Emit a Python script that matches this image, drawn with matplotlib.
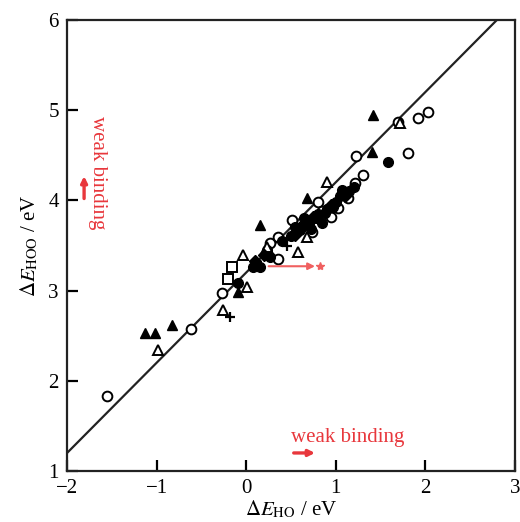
import matplotlib
matplotlib.use("Agg")
import matplotlib.pyplot as plt

# ---- data ----
open_circle_x = [-1.55, -0.62, -0.27, 0.27, 0.36, 0.36, 0.51, 0.74, 0.80, 0.85, 0.95, 1.02, 1.14, 1.22, 1.31, 1.23, 1.70, 1.81, 1.92, 2.03]
open_circle_y = [1.83, 2.57, 2.97, 3.53, 3.59, 3.35, 3.78, 3.65, 3.98, 3.88, 3.82, 3.92, 4.03, 4.19, 4.28, 4.49, 4.87, 4.53, 4.91, 4.98]

filled_circle_x = [-0.09, 0.08, 0.16, 0.23, 0.27, 0.40, 0.50, 0.55, 0.60, 0.62, 0.65, 0.70, 0.72, 0.78, 0.80, 0.85, 0.88, 0.90, 0.97, 1.00, 1.05, 1.07, 1.15, 1.20, 1.58]
filled_circle_y = [3.08, 3.26, 3.26, 3.45, 3.37, 3.55, 3.60, 3.70, 3.67, 3.72, 3.80, 3.75, 3.68, 3.80, 3.85, 3.75, 3.86, 3.90, 3.93, 3.98, 4.05, 4.12, 4.10, 4.15, 4.43]

filled_tri_x = [-1.13, -1.02, -0.83, -0.09, 0.16, 0.68, 1.41, 1.42]
filled_tri_y = [2.53, 2.53, 2.62, 2.98, 3.73, 4.03, 4.54, 4.95]

open_tri_x = [-0.98, -0.26, -0.04, 0.01, 0.23, 0.58, 0.68, 0.90, 1.72]
open_tri_y = [2.34, 2.78, 3.40, 3.04, 3.48, 3.43, 3.59, 4.20, 4.86]

open_square_x = [-0.16, -0.20]
open_square_y = [3.26, 3.13]

plus_x = [-0.18, 0.46]
plus_y = [2.71, 3.49]

filled_diamond_x = [0.10, 0.20, 0.55, 0.75, 0.95, 1.10]
filled_diamond_y = [3.33, 3.40, 3.62, 3.82, 3.95, 4.05]

fit_slope = 1.0
fit_intercept = 3.2

x_ticks = [-2, -1, 0, 1, 2, 3]
y_ticks = [1, 2, 3, 4, 5, 6]
annot_text = "weak binding"

# ---- style ----
plt.rcParams['font.family'] = ['Liberation Serif', 'DejaVu Serif']
plt.rcParams['mathtext.fontset'] = 'stix'
red = '#e8373c'

fig = plt.figure(figsize=(5.2, 5.22), dpi=100)
ax = fig.add_axes([0.129, 0.0977, 0.861, 0.864])

ax.axline((0, fit_intercept), slope=fit_slope, color='#222222', lw=1.6, zorder=1)

ms = 7
mew = 1.4
ax.plot(open_circle_x, open_circle_y, 'o', ms=ms, mfc='white', mec='black', mew=mew, zorder=3)
ax.plot(filled_circle_x, filled_circle_y, 'o', ms=ms, mfc='black', mec='black', zorder=3)
ax.plot(filled_tri_x, filled_tri_y, '^', ms=ms + 0.5, mfc='black', mec='black', zorder=3)
ax.plot(open_tri_x, open_tri_y, '^', ms=ms + 0.5, mfc='white', mec='black', mew=mew, zorder=3)
ax.plot(open_square_x, open_square_y, 's', ms=ms, mfc='white', mec='black', mew=mew, zorder=3)
ax.plot(plus_x, plus_y, '+', ms=ms, mec='black', mew=1.6, zorder=3)
ax.plot(filled_diamond_x, filled_diamond_y, 'D', ms=ms - 1, mfc='black', mec='black', zorder=3)

# red annotations
ax.annotate('', xy=(0.80, 3.27), xytext=(0.22, 3.27),
            arrowprops=dict(arrowstyle='-|>', color='#f06060', lw=1.5, mutation_scale=10), zorder=4)
ax.plot([0.83], [3.27], '*', color='#f06060', ms=6, zorder=4)

ax.annotate('', xy=(0.80, 1.20), xytext=(0.50, 1.20),
            arrowprops=dict(arrowstyle='-|>', color=red, lw=2.4, mutation_scale=9))
ax.text(0.50, 1.27, annot_text, color=red, fontsize=15, ha='left', va='bottom')

ax.annotate('', xy=(-1.81, 4.30), xytext=(-1.81, 3.99),
            arrowprops=dict(arrowstyle='-|>', color=red, lw=2.4, mutation_scale=9))
ax.text(-1.66, 4.31, annot_text, color=red, fontsize=15, rotation=270,
        ha='center', va='center', rotation_mode='anchor')

ax.set_xlim(-2, 3)
ax.set_ylim(1, 6)
ax.set_xticks(x_ticks)
ax.set_yticks(y_ticks)
ax.set_xticklabels(['\u22122' if t == -2 else ('\u22121' if t == -1 else str(t)) for t in x_ticks])
ax.tick_params(direction='in', length=8, width=1.6, labelsize=15, top=False, right=False, pad=6)
for s in ax.spines.values():
    s.set_linewidth(1.6)
    s.set_color('#222222')

ax.set_xlabel(r'$\Delta \mathit{E}_{\mathrm{HO}}$ / eV', fontsize=15, labelpad=0)
ax.set_ylabel(r'$\Delta \mathit{E}_{\mathrm{HOO}}$ / eV', fontsize=15, labelpad=6)

fig.savefig('out.png', dpi=100)
